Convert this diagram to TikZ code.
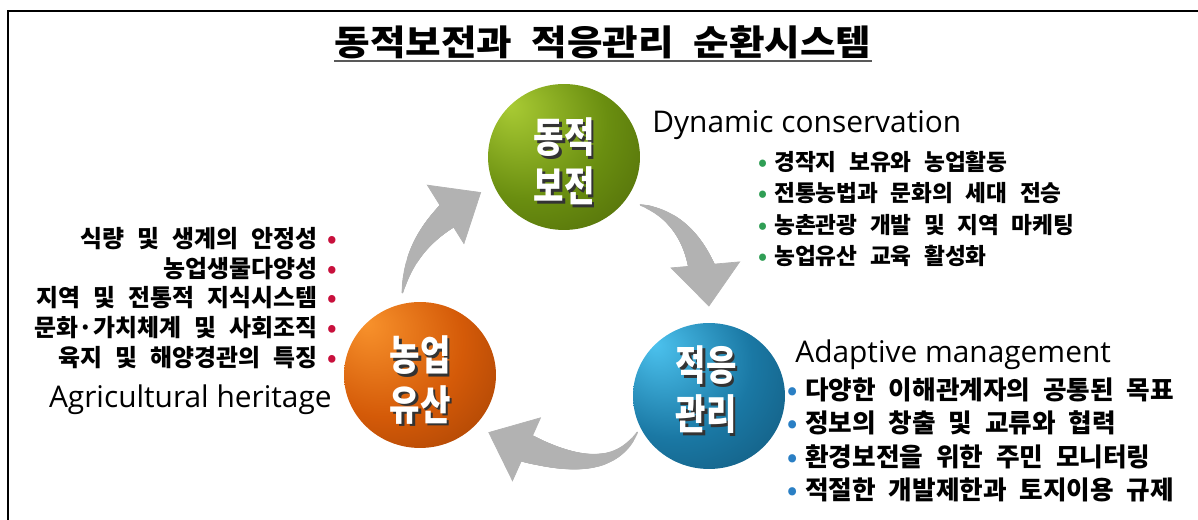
\documentclass[tikz,border=0pt]{standalone}
\usepackage{fontspec}
\setmainfont{Noto Sans CJK KR}
\newfontfamily\engfont{Open Sans}
\usetikzlibrary{arrows.meta,shapes.geometric,positioning,decorations.markings}

\definecolor{dynlight}{HTML}{A9CB34}
\definecolor{dynmid}{HTML}{6A8E10}
\definecolor{dyndark}{HTML}{2A3800}
\definecolor{adplight}{HTML}{4CC2EE}
\definecolor{adpmid}{HTML}{1A78A4}
\definecolor{adpdark}{HTML}{082C44}
\definecolor{herlight}{HTML}{F8922C}
\definecolor{hermid}{HTML}{D45A08}
\definecolor{herdark}{HTML}{622000}
\definecolor{arrowgray}{HTML}{B2B2B2}
\definecolor{bulgreen}{HTML}{2F9E55}
\definecolor{bulblue}{HTML}{2A7FC4}
\definecolor{bulred}{HTML}{C8103C}

\pgfdeclareradialshading{dynball}{\pgfpoint{-18bp}{18bp}}{color(0bp)=(dynlight); color(26bp)=(dynmid); color(74bp)=(dyndark)}
\pgfdeclareradialshading{adpball}{\pgfpoint{-18bp}{18bp}}{color(0bp)=(adplight); color(26bp)=(adpmid); color(74bp)=(adpdark)}
\pgfdeclareradialshading{herball}{\pgfpoint{-18bp}{18bp}}{color(0bp)=(herlight); color(26bp)=(hermid); color(74bp)=(herdark)}

\newcommand{\dotg}{\textcolor{bulgreen}{•}\hspace{0.3em}}
\newcommand{\dotb}{\textcolor{bulblue}{•}\hspace{0.3em}}
\newcommand{\dotr}{\hspace{0.4em}\textcolor{bulred}{•}}
\newcommand{\wsp}[1]{\spaceskip #1em\relax}

\tikzset{
  ball/.style={ellipse, shade, minimum width=3.04cm, minimum height=2.92cm, inner sep=0pt},
  ctext/.style={align=center, inner sep=0pt, text=white, xscale=0.8,
    font=\bfseries\fontsize{23.5}{28}\selectfont},
  cshadow/.style={ctext, text=black!80},
  titletext/.style={inner sep=0pt, xscale=1.1, font=\bfseries\fontsize{20}{23}\selectfont\wsp{0.5}},
  engtext/.style={inner sep=0pt, font=\engfont\fontsize{17}{20}\selectfont},
  glist/.style={align=left, inner sep=0pt, font=\bfseries\fontsize{12.9}{17.9}\selectfont\wsp{0.55}},
  blist/.style={align=left, inner sep=0pt, font=\bfseries\fontsize{14.6}{19}\selectfont\wsp{0.5}},
  rlist/.style={align=right, inner sep=0pt, font=\bfseries\fontsize{13.6}{17}\selectfont\wsp{0.55}},
  cyc/.style={postaction={decorate}, decoration={markings,
    mark=between positions 0 and -21pt step 0.6pt with {
      \pgfmathsetmacro\rr{0.6+10*\pgfkeysvalueof{/pgf/decoration/mark info/distance from start}/\pgfdecoratedpathlength}
      \fill[arrowgray] (0,0) circle (\rr pt);},
    mark=at position 1 with {\arrow[arrowgray]{Triangle[length=24pt,width=40pt]}}}}
}

\begin{document}
\begin{tikzpicture}[x=0.02cm, y=0.02cm]
\useasboundingbox (0,0) rectangle (1198,520);
% frame
\draw[line width=1pt] (8,0) -- (8,509) -- (1198,509);
\node[titletext] (title) at (603,478) {동적보전과 적응관리 순환시스템};
\draw[line width=1.3pt, black!65] ([yshift=-1pt]title.south west) -- ([yshift=-1pt]title.south east);

% three balls
\node[ball, shading=dynball] (dyn) at (564,363) {};
\node[ball, shading=adpball] (adp) at (709,124) {};
\node[ball, shading=herball] (her) at (420,145) {};

\node[cshadow] (dynsh) at (566.5,356) {동적\\보전};
\node[ctext] (dynlbl) at (564,358.5) {동적\\보전};
\node[cshadow] (adpsh) at (708.5,127.5) {적응\\관리};
\node[ctext] (adplbl) at (706,130) {적응\\관리};
\node[cshadow] (hersh) at (422.5,137.5) {농업\\유산};
\node[ctext] (herlbl) at (420,140) {농업\\유산};

% cycle arrows
\path[cyc] ([shift={(102:11)}]her.102) to[out=80,in=212] ([shift={(203:14)}]dyn.203);
\path[cyc] ([shift={(-32:15)}]dyn.-32) to[out=-15,in=95] ([shift={(90:16)}]adp.90);
\path[cyc] ([shift={(207:5)}]adp.207) to[out=240,in=-24] ([shift={(-40:14)}]her.-40);

% texts
\node[engtext, anchor=west] (dyneng) at (652,395) {Dynamic conservation};
\node[glist, anchor=west] (dynlist) at (758,311) {\dotg 경작지 보유와 농업활동\\
  \dotg 전통농법과 문화의 세대 전승\\
  \dotg 농촌관광 개발 및 지역 마케팅\\
  \dotg 농업유산 교육 활성화};
\node[engtext, anchor=west] (adpeng) at (795,165) {Adaptive management};
\node[blist, anchor=west] (adplist) at (787,80) {\dotb 다양한 이해관계자의 공통된 목표\\
  \dotb 정보의 창출 및 교류와 협력\\
  \dotb 환경보전을 위한 주민 모니터링\\
  \dotb 적절한 개발제한과 토지이용 규제};
\node[rlist, anchor=east] (herlist) at (337,222) {식량 및 생계의 안정성\dotr\\
  농업생물다양성\dotr\\
  지역 및 전통적 지식시스템\dotr\\
  문화·가치체계 및 사회조직\dotr\\
  육지 및 해양경관의 특징\dotr};
\node[engtext, anchor=east] (hereng) at (332,120) {Agricultural heritage};
\end{tikzpicture}
\end{document}
